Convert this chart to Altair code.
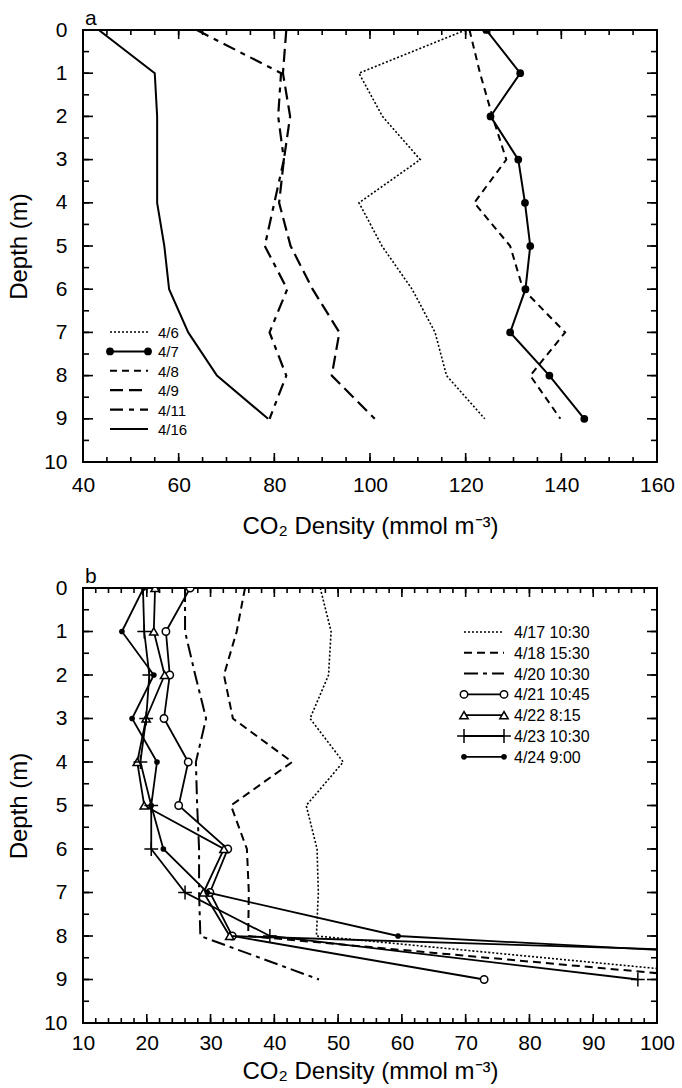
import altair as alt
import pandas as pd

FONT = "Liberation Sans"

# ---------------- data ----------------
DEPTH = [0, 1, 2, 3, 4, 5, 6, 7, 8, 9]

# panel a: CO2 density profiles, April 6-16
A_0406 = [120.0, 97.7, 102.6, 110.5, 97.7, 102.5, 108.8, 113.6, 116.0, 124.0]
A_0407 = [124.3, 131.4, 125.2, 131.0, 132.4, 133.5, 132.5, 129.3, 137.5, 144.8]
A_0408 = [120.8, 123.0, 125.6, 128.5, 121.8, 129.3, 132.0, 140.8, 133.5, 139.8]
A_0409 = [82.5, 81.8, 83.3, 82.0, 81.0, 83.4, 88.0, 93.6, 92.0, 101.0]
A_0411 = [63.8, 81.4, 80.8, 82.0, 80.0, 78.0, 82.7, 79.0, 82.5, 79.0]
A_0416 = [43.3, 55.0, 55.5, 55.5, 55.5, 57.0, 58.0, 62.0, 68.0, 78.7]

# panel b: CO2 density profiles, April 17-24
B_0417 = [47.2, 48.9, 48.5, 45.6, 50.8, 45.0, 46.7, 46.9, 46.6, 118.0]
B_0418 = [35.4, 34.1, 32.1, 33.5, 42.8, 33.2, 35.7, 36.0, 35.9, 111.0]
B_0420 = [26.0, 26.0, 27.6, 29.3, 27.7, 27.9, 28.2, 28.2, 28.4, 47.0]
B_0421 = [26.8, 23.0, 23.6, 22.7, 26.5, 25.0, 32.7, 29.9, 33.4, 72.9]
B_0422 = [21.3, 21.1, 22.8, 19.9, 18.5, 19.6, 32.1, 28.9, 33.0, 255.0]
B_0423 = [19.4, 19.6, 20.4, 19.9, 19.0, 20.7, 20.7, 26.0, 39.3, 97.0]
B_0424 = [19.5, 16.1, 21.1, 17.7, 21.6, 20.7, 22.6, 29.5, 59.4, 186.0]

A_SERIES = [("4/6", A_0406), ("4/7", A_0407), ("4/8", A_0408),
            ("4/9", A_0409), ("4/11", A_0411), ("4/16", A_0416)]
B_SERIES = [("4/17 10:30", B_0417), ("4/18 15:30", B_0418),
            ("4/20 10:30", B_0420), ("4/21 10:45", B_0421),
            ("4/22 8:15", B_0422), ("4/23 10:30", B_0423),
            ("4/24 9:00", B_0424)]

# axis ticks
A_X_LABELS = [40, 60, 80, 100, 120, 140, 160]
A_X_MINOR = [v for v in range(40, 161, 5)]
B_X_LABELS = [10, 20, 30, 40, 50, 60, 70, 80, 90, 100]
B_X_MINOR = [v for v in range(10, 101, 2)]
Y_LABELS = [0, 1, 2, 3, 4, 5, 6, 7, 8, 9, 10]
Y_MINOR = [v / 2 for v in range(0, 21)]

# ---------------- styles ----------------
PLUS = "M-1,0H1M0,-1V1"
STYLE = {
    "4/6": dict(dash=[2, 2], width=1.6),
    "4/7": dict(dash=None, width=2.0, marker=dict(shape="circle", filled=True, size=60)),
    "4/8": dict(dash=[7, 5], width=2.0),
    "4/9": dict(dash=[13, 6], width=2.2),
    "4/11": dict(dash=[13, 6, 5, 6], width=2.2),
    "4/16": dict(dash=None, width=2.0),
    "4/17 10:30": dict(dash=[2, 2], width=1.6),
    "4/18 15:30": dict(dash=[8, 5], width=2.0),
    "4/20 10:30": dict(dash=[14, 5, 4, 5], width=2.0),
    "4/21 10:45": dict(dash=None, width=1.8, marker=dict(shape="circle", filled=False, size=55)),
    "4/22 8:15": dict(dash=None, width=1.8, marker=dict(shape="triangle-up", filled=False, size=70)),
    "4/23 10:30": dict(dash=None, width=1.8, marker=dict(shape=PLUS, filled=False, size=190)),
    "4/24 9:00": dict(dash=None, width=1.8, marker=dict(shape="circle", filled=True, size=32)),
}

W = 574
LABEL_SIZE = 21
TITLE_SIZE = 24


def point_kw(m):
    if m["filled"]:
        return dict(shape=m["shape"], filled=True, size=m["size"],
                    color="black", opacity=1, clip=True)
    return dict(shape=m["shape"], filled=False, size=m["size"],
                stroke="black", fill="white", fillOpacity=1 if m["shape"] != PLUS else 0,
                strokeWidth=1.5, opacity=1, clip=True)


def panel(series, xdom, xlabels, xminor, height, letter, leg_x0, leg_x1, leg_y0, leg_dy,
          leg_font, x_label_pad, x_title_pad):
    common = dict(ticks=False, domain=False, grid=False, labelFlush=False,
                  labelFont=FONT, labelFontSize=LABEL_SIZE, labelColor="black",
                  titleFont=FONT, titleFontSize=TITLE_SIZE, titleFontWeight="normal",
                  titleColor="black")
    xaxis = alt.Axis(values=xlabels, labelPadding=x_label_pad, titlePadding=x_title_pad,
                     title="CO\u2082 Density (mmol m\u207b\u00b3)", **common)
    yaxis = alt.Axis(values=Y_LABELS, labelPadding=16, titlePadding=12,
                     title="Depth (m)", **common)
    xs = alt.Scale(domain=xdom, nice=False, zero=False)
    ys = alt.Scale(domain=[0, 10], reverse=True, nice=False, zero=False)
    X = alt.X("x:Q", scale=xs, axis=xaxis)
    Y = alt.Y("depth:Q", scale=ys, axis=yaxis)

    layers = []
    # inward ticks on all four sides
    xmaj = pd.DataFrame({"x": xlabels})
    xmin = pd.DataFrame({"x": xminor})
    ymaj = pd.DataFrame({"depth": Y_LABELS})
    ymin = pd.DataFrame({"depth": Y_MINOR})
    for df, ln in ((xmin, 5), (xmaj, 9)):
        layers.append(alt.Chart(df).mark_rule(color="black", strokeWidth=1.6).encode(
            x=X, y=alt.value(height), y2=alt.value(height - ln)))
        layers.append(alt.Chart(df).mark_rule(color="black", strokeWidth=1.6).encode(
            x=X, y=alt.value(0), y2=alt.value(ln)))
    for df, ln in ((ymin, 6), (ymaj, 10)):
        layers.append(alt.Chart(df).mark_rule(color="black", strokeWidth=1.6).encode(
            y=Y, x=alt.value(0), x2=alt.value(ln)))
        layers.append(alt.Chart(df).mark_rule(color="black", strokeWidth=1.6).encode(
            y=Y, x=alt.value(W), x2=alt.value(W - ln)))

    # profiles
    for i, (name, vals) in enumerate(series):
        st = STYLE[name]
        df = pd.DataFrame({"x": vals, "depth": DEPTH, "name": name})
        kw = dict(color="black", strokeWidth=st["width"], clip=True)
        if st["dash"]:
            kw["strokeDash"] = st["dash"]
        layers.append(alt.Chart(df).mark_line(**kw).encode(x=X, y=Y, order="depth:Q"))
        if "marker" in st:
            layers.append(alt.Chart(df).mark_point(**point_kw(st["marker"])).encode(x=X, y=Y))

        # legend entry
        ly = leg_y0 + i * leg_dy
        ldf = pd.DataFrame({"name": [name]})
        rk = dict(color="black", strokeWidth=st["width"])
        if st["dash"]:
            rk["strokeDash"] = st["dash"]
        layers.append(alt.Chart(ldf).mark_rule(**rk).encode(
            x=alt.value(leg_x0), x2=alt.value(leg_x1), y=alt.value(ly)))
        if "marker" in st:
            for px in (leg_x0, leg_x1):
                layers.append(alt.Chart(ldf).mark_point(**point_kw(st["marker"])).encode(
                    x=alt.value(px), y=alt.value(ly)))
        layers.append(alt.Chart(ldf).mark_text(
            align="left", baseline="middle", font=FONT, fontSize=leg_font, color="black").encode(
            x=alt.value(leg_x1 + 10), y=alt.value(ly + 1), text="name:N"))

    # panel letter
    layers.append(alt.Chart(pd.DataFrame({"t": [letter]})).mark_text(
        align="left", baseline="alphabetic", font=FONT, fontSize=21, color="black").encode(
        x=alt.value(2), y=alt.value(-5), text="t:N"))

    return alt.layer(*layers).properties(width=W, height=height)


pa = panel(A_SERIES, [40, 160], A_X_LABELS, A_X_MINOR, 432, "a",
           27, 65, 302, 19.4, 15, 12, 19)
pb = panel(B_SERIES, [10, 100], B_X_LABELS, B_X_MINOR, 435, "b",
           381, 421, 44, 20.8, 16, 9, 6)

chart = alt.vconcat(pa, pb, spacing=26).properties(
    padding={"left": 6, "top": 7, "right": 0, "bottom": 0}
).configure_view(stroke="black", strokeWidth=2)

chart.save("out.html", embed_options={"renderer": "svg", "actions": False})
